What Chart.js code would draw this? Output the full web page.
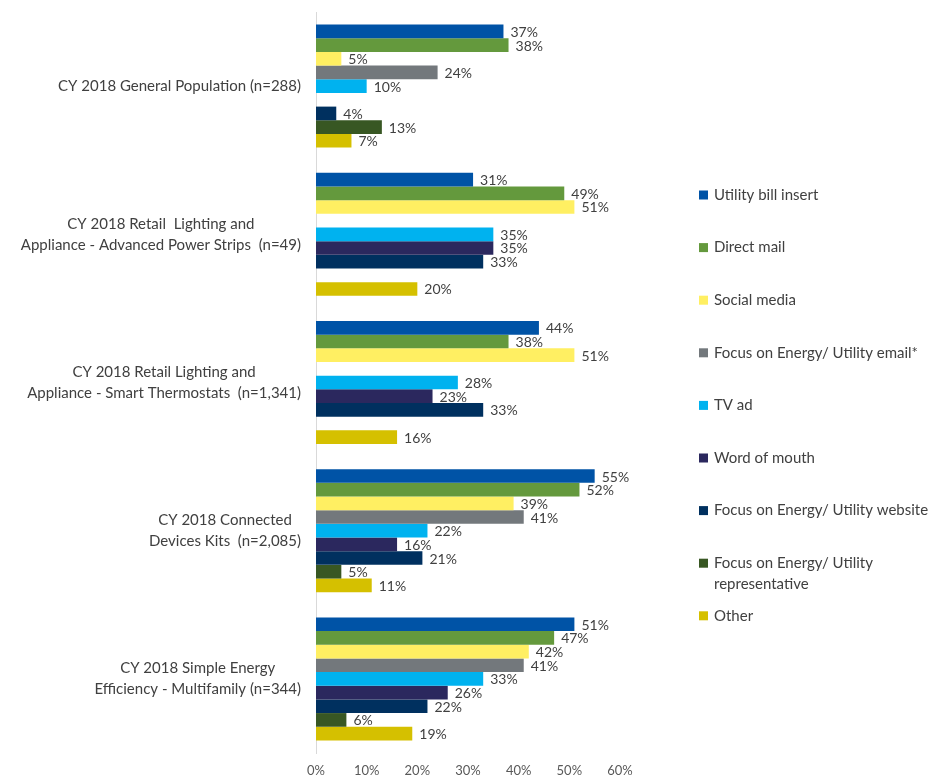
<!DOCTYPE html>
<html>
<head>
<meta charset="utf-8">
<script src="https://cdn.jsdelivr.net/npm/chart.js@4"></script>
<style>
  html, body { margin: 0; padding: 0; background: #fff; }
  #wrap { width: 935px; height: 776px; }
</style>
</head>
<body>
<div id="wrap"><canvas id="chart" width="935" height="776"></canvas></div>
<script>
const categories = [
  ["CY 2018 General Population (n=288)"],
  ["CY 2018 Retail  Lighting and", "Appliance - Advanced Power Strips  (n=49)"],
  ["CY 2018 Retail Lighting and", "Appliance - Smart Thermostats  (n=1,341)"],
  ["CY 2018 Connected", "Devices Kits  (n=2,085)"],
  ["CY 2018 Simple Energy", "Efficiency - Multifamily (n=344)"],
];

const seriesNames = [
  "Utility bill insert",
  "Direct mail",
  "Social media",
  "Focus on Energy/ Utility email*",
  "TV ad",
  "Word of mouth",
  "Focus on Energy/ Utility website",
  "Focus on Energy/ Utility representative",
  "Other",
];

const utilityBillInsert = [37, 31, 44, 55, 51];
const directMail = [38, 49, 38, 52, 47];
const socialMedia = [5, 51, 51, 39, 42];
const utilityEmail = [24, null, null, 41, 41];
const tvAd = [10, 35, 28, 22, 33];
const wordOfMouth = [null, 35, 23, 16, 26];
const utilityWebsite = [4, 33, 33, 21, 22];
const utilityRep = [13, null, null, 5, 6];
const other = [7, 20, 16, 11, 19];

const xTicks = [0, 10, 20, 30, 40, 50, 60];

const seriesValues = [
  utilityBillInsert, directMail, socialMedia, utilityEmail, tvAd,
  wordOfMouth, utilityWebsite, utilityRep, other,
];
const seriesColors = [
  "#0053a6", "#64993d", "#ffef62", "#73787c", "#00b2ef",
  "#2b285e", "#00305f", "#385723", "#d5c000",
];

const FONT = "Lato, 'Open Sans', sans-serif";
const TEXT = "#404040";

// value labels to the right of each bar
const valueLabels = {
  id: "valueLabels",
  afterDatasetsDraw(chart) {
    const ctx = chart.ctx;
    ctx.save();
    ctx.font = `14px ${FONT}`;
    ctx.fillStyle = TEXT;
    ctx.textAlign = "left";
    ctx.textBaseline = "middle";
    chart.data.datasets.forEach((ds, i) => {
      chart.getDatasetMeta(i).data.forEach((bar, j) => {
        const v = ds.data[j];
        if (v === null || v === undefined) return;
        ctx.fillText(`${v}%`, bar.x + 7, bar.y + 1);
      });
    });
    ctx.restore();
  },
};

// category labels: block right-aligned against the axis, lines centred in the block
const categoryLabels = {
  id: "categoryLabels",
  afterDraw(chart) {
    const ctx = chart.ctx;
    const yScale = chart.scales.y;
    const right = chart.chartArea.left - 15;
    const lineH = 21;
    ctx.save();
    ctx.font = `15px ${FONT}`;
    ctx.fillStyle = TEXT;
    ctx.textAlign = "center";
    ctx.textBaseline = "middle";
    categories.forEach((lines, i) => {
      const y = yScale.getPixelForValue(i);
      const w = Math.max(...lines.map((l) => ctx.measureText(l).width));
      const cx = right - w / 2;
      const top = y - ((lines.length - 1) * lineH) / 2;
      lines.forEach((l, k) => ctx.fillText(l, cx, top + k * lineH));
    });
    ctx.restore();
  },
};

// legend on the right, wrapped like the original
const sideLegend = {
  id: "sideLegend",
  afterDraw(chart) {
    const ctx = chart.ctx;
    const x = 699;
    const startY = 195;
    const step = 52.6;
    const maxW = 224;
    ctx.save();
    ctx.font = `15px ${FONT}`;
    ctx.textBaseline = "middle";
    ctx.textAlign = "left";
    let y = startY;
    chart.data.datasets.forEach((ds) => {
      ctx.fillStyle = ds.backgroundColor;
      ctx.fillRect(x, y - 4.5, 9, 9);
      ctx.fillStyle = TEXT;
      const words = ds.label.split(" ");
      const lines = [];
      let cur = "";
      words.forEach((w) => {
        const test = cur ? cur + " " + w : w;
        if (ctx.measureText(test).width > maxW && cur) {
          lines.push(cur);
          cur = w;
        } else {
          cur = test;
        }
      });
      lines.push(cur);
      lines.forEach((l, k) => ctx.fillText(l, x + 15, y + k * 21));
      y += step;
    });
    ctx.restore();
  },
};

new Chart(document.getElementById("chart"), {
  type: "bar",
  data: {
    labels: categories,
    datasets: seriesNames.map((name, i) => ({
      label: name,
      data: seriesValues[i],
      backgroundColor: seriesColors[i],
      borderWidth: 0,
      categoryPercentage: 0.83,
      barPercentage: 1.0,
    })),
  },
  options: {
    indexAxis: "y",
    responsive: false,
    animation: false,
    layout: { padding: { top: 12, right: 315, left: 0, bottom: 0 } },
    scales: {
      x: {
        min: 0,
        max: 60,
        afterBuildTicks: (scale) => {
          scale.ticks = xTicks.map((v) => ({ value: v }));
        },
        afterFit: (scale) => {
          scale.height = 23;
        },
        grid: { display: false, drawTicks: false },
        border: { display: false },
        ticks: {
          padding: 10,
          color: "#595959",
          font: { family: FONT, size: 13 },
          callback: (v) => `${v}%`,
        },
      },
      y: {
        afterFit: (scale) => {
          scale.width = 316;
        },
        grid: { display: false, drawTicks: false },
        border: { display: true, color: "#d9d9d9", width: 1 },
        ticks: { display: false },
      },
    },
    plugins: {
      legend: { display: false },
      tooltip: { enabled: false },
    },
  },
  plugins: [valueLabels, categoryLabels, sideLegend],
});
</script>
</body>
</html>
